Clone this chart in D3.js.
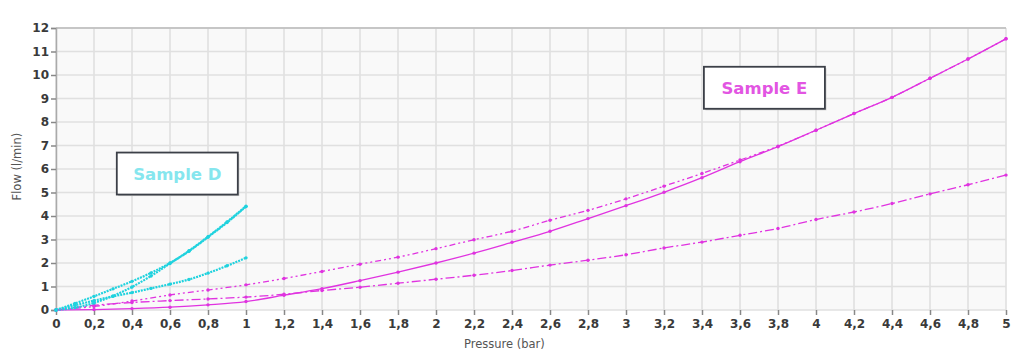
<!DOCTYPE html>
<html>
<head>
<meta charset="utf-8">
<script src="https://cdn.jsdelivr.net/npm/d3@7"></script>
<style>
  body { margin: 0; background: #fff; }
  svg { display: block; }
</style>
</head>
<body>
<div id="chart"></div>
<script>
// Pressure steps
const pressD = [0, 0.1, 0.2, 0.3, 0.4, 0.5, 0.6, 0.7, 0.8, 0.9, 1.0];
const pressE = [0, 0.2, 0.4, 0.6, 0.8, 1.0, 1.2, 1.4, 1.6, 1.8, 2.0, 2.2, 2.4,
  2.6, 2.8, 3.0, 3.2, 3.4, 3.6, 3.8, 4.0, 4.2, 4.4, 4.6, 4.8, 5.0];

// Sample D (cyan)
const flowD1 = [0, 0.28, 0.58, 0.9, 1.22, 1.58, 2.0, 2.5, 3.1, 3.72, 4.4];
const flowD2 = [0, 0.1, 0.3, 0.6, 0.98, 1.45, 1.98, 2.52, 3.12, 3.75, 4.42];
const flowD3 = [0, 0.2, 0.4, 0.58, 0.74, 0.92, 1.1, 1.3, 1.57, 1.88, 2.22];

// Sample E (magenta)
const flowE1 = [0, 0.02, 0.06, 0.12, 0.22, 0.36, 0.63, 0.91, 1.25, 1.61, 2.0, 2.42, 2.88,
  3.35, 3.89, 4.44, 5.01, 5.63, 6.31, 6.95, 7.65, 8.36, 9.05, 9.86, 10.68, 11.54];
const flowE2 = [0, 0.15, 0.38, 0.64, 0.85, 1.07, 1.34, 1.64, 1.95, 2.25, 2.61, 2.99, 3.35,
  3.82, 4.24, 4.73, 5.27, 5.81, 6.38, 6.97, 7.65, 8.36, 9.05, 9.86, 10.68, 11.54];
const flowE3 = [0, 0.2, 0.32, 0.4, 0.47, 0.55, 0.67, 0.83, 0.97, 1.14, 1.31, 1.48, 1.68,
  1.91, 2.12, 2.35, 2.64, 2.89, 3.18, 3.47, 3.85, 4.17, 4.53, 4.94, 5.33, 5.74];

const xTicks = d3.range(0, 26).map(i => i / 5);
const yTicks = d3.range(0, 13);

const W = 1027, H = 363;
const margin = { top: 28, right: 21, bottom: 53, left: 56 };
const iw = W - margin.left - margin.right;
const ih = H - margin.top - margin.bottom;

const svg = d3.select("#chart").append("svg")
  .attr("width", W)
  .attr("height", H);

const g = svg.append("g")
  .attr("transform", `translate(${margin.left},${margin.top})`);

const x = d3.scaleLinear().domain([0, 5]).range([0, iw]);
const y = d3.scaleLinear().domain([0, 12]).range([ih, 0]);

const fmt = v => d3.format("~g")(+v.toFixed(1)).replace(".", ",");

// fond + grille
g.append("rect")
  .attr("width", iw).attr("height", ih)
  .attr("fill", "#f9f9f9");

g.append("g")
  .selectAll("line")
  .data(xTicks)
  .enter().append("line")
  .attr("x1", d => x(d)).attr("x2", d => x(d))
  .attr("y1", 0).attr("y2", ih)
  .attr("stroke", "#e0e0e0")
  .attr("stroke-width", 1.6);

g.append("g")
  .selectAll("line")
  .data(yTicks)
  .enter().append("line")
  .attr("x1", 0).attr("x2", iw)
  .attr("y1", d => y(d)).attr("y2", d => y(d))
  .attr("stroke", "#e0e0e0")
  .attr("stroke-width", 1.6);

// bord haut
g.append("line")
  .attr("x1", 0).attr("x2", iw)
  .attr("y1", 0).attr("y2", 0)
  .attr("stroke", "#bbb")
  .attr("stroke-width", 1.5);

// axes
const xAxis = g.append("g")
  .attr("transform", `translate(0,${ih})`)
  .call(d3.axisBottom(x).tickValues(xTicks).tickFormat(fmt).tickSize(5).tickPadding(4));

const yAxis = g.append("g")
  .call(d3.axisLeft(y).tickValues(yTicks).tickFormat(d3.format("d")).tickSize(5).tickPadding(2));

[xAxis, yAxis].forEach(a => {
  a.select(".domain").attr("stroke", "#aaa").attr("stroke-width", 1.5);
  a.selectAll(".tick line").attr("stroke", "#888").attr("stroke-width", 1.5);
  a.selectAll("text")
    .attr("fill", "#3a3a3a")
    .style("font-family", "'DejaVu Sans', Verdana, sans-serif")
    .style("font-weight", "bold")
    .style("font-size", "12px");
});
xAxis.select(".domain").remove();

// titres des axes
svg.append("text")
  .attr("x", margin.left + x(2.36))
  .attr("y", 348)
  .attr("text-anchor", "middle")
  .attr("fill", "#555")
  .style("font-family", "'DejaVu Sans', Verdana, sans-serif")
  .style("font-size", "11.5px")
  .text("Pressure (bar)");

svg.append("text")
  .attr("transform", `translate(21,${margin.top + y(6.1)}) rotate(-90)`)
  .attr("text-anchor", "middle")
  .attr("fill", "#555")
  .style("font-family", "'DejaVu Sans', Verdana, sans-serif")
  .style("font-size", "11.5px")
  .text("Flow (l/min)");

// séries
const cyan = "#1fd2de";
const magenta = "#e033e0";

const series = [
  { px: pressE, fy: flowE3, color: magenta, dash: "9,3,2,3", w: 1.3 },
  { px: pressE, fy: flowE2, color: magenta, dash: "6,3,2,3,2,3", w: 1.3 },
  { px: pressE, fy: flowE1, color: magenta, dash: null, w: 1.3 },
  { px: pressD, fy: flowD3, color: cyan, dash: "2,1", w: 2.2 },
  { px: pressD, fy: flowD2, color: cyan, dash: "2,1", w: 2.2 },
  { px: pressD, fy: flowD1, color: cyan, dash: "2,1", w: 2.2 }
];

const line = d3.line()
  .x(d => x(d[0]))
  .y(d => y(d[1]))
  .curve(d3.curveMonotoneX);

series.forEach(s => {
  const pts = s.px.map((p, i) => [p, s.fy[i]]);
  g.append("path")
    .datum(pts)
    .attr("fill", "none")
    .attr("stroke", s.color)
    .attr("stroke-width", s.w)
    .attr("stroke-dasharray", s.dash)
    .attr("d", line);
  g.append("g")
    .selectAll("circle")
    .data(pts)
    .enter().append("circle")
    .attr("cx", d => x(d[0]))
    .attr("cy", d => y(d[1]))
    .attr("r", 1.7)
    .attr("fill", s.color);
});

// étiquettes des échantillons
const labels = [
  { text: "Sample D", px: 0.32, py: 6.7, color: "#86e6ee" },
  { text: "Sample E", px: 3.41, py: 10.35, color: "#e255e2" }
];

labels.forEach(l => {
  const lg = g.append("g")
    .attr("transform", `translate(${x(l.px)},${y(l.py)})`);
  lg.append("rect")
    .attr("x", 1.5).attr("y", 1.5)
    .attr("width", 121).attr("height", 42)
    .attr("fill", "#c8c8c8");
  lg.append("rect")
    .attr("width", 121).attr("height", 42)
    .attr("fill", "#fff")
    .attr("stroke", "#3c4048")
    .attr("stroke-width", 1.8);
  lg.append("text")
    .attr("x", 60.5).attr("y", 27)
    .attr("text-anchor", "middle")
    .attr("fill", l.color)
    .style("font-family", "'DejaVu Sans', Verdana, sans-serif")
    .style("font-weight", "bold")
    .style("font-size", "16.5px")
    .text(l.text);
});
</script>
</body>
</html>
